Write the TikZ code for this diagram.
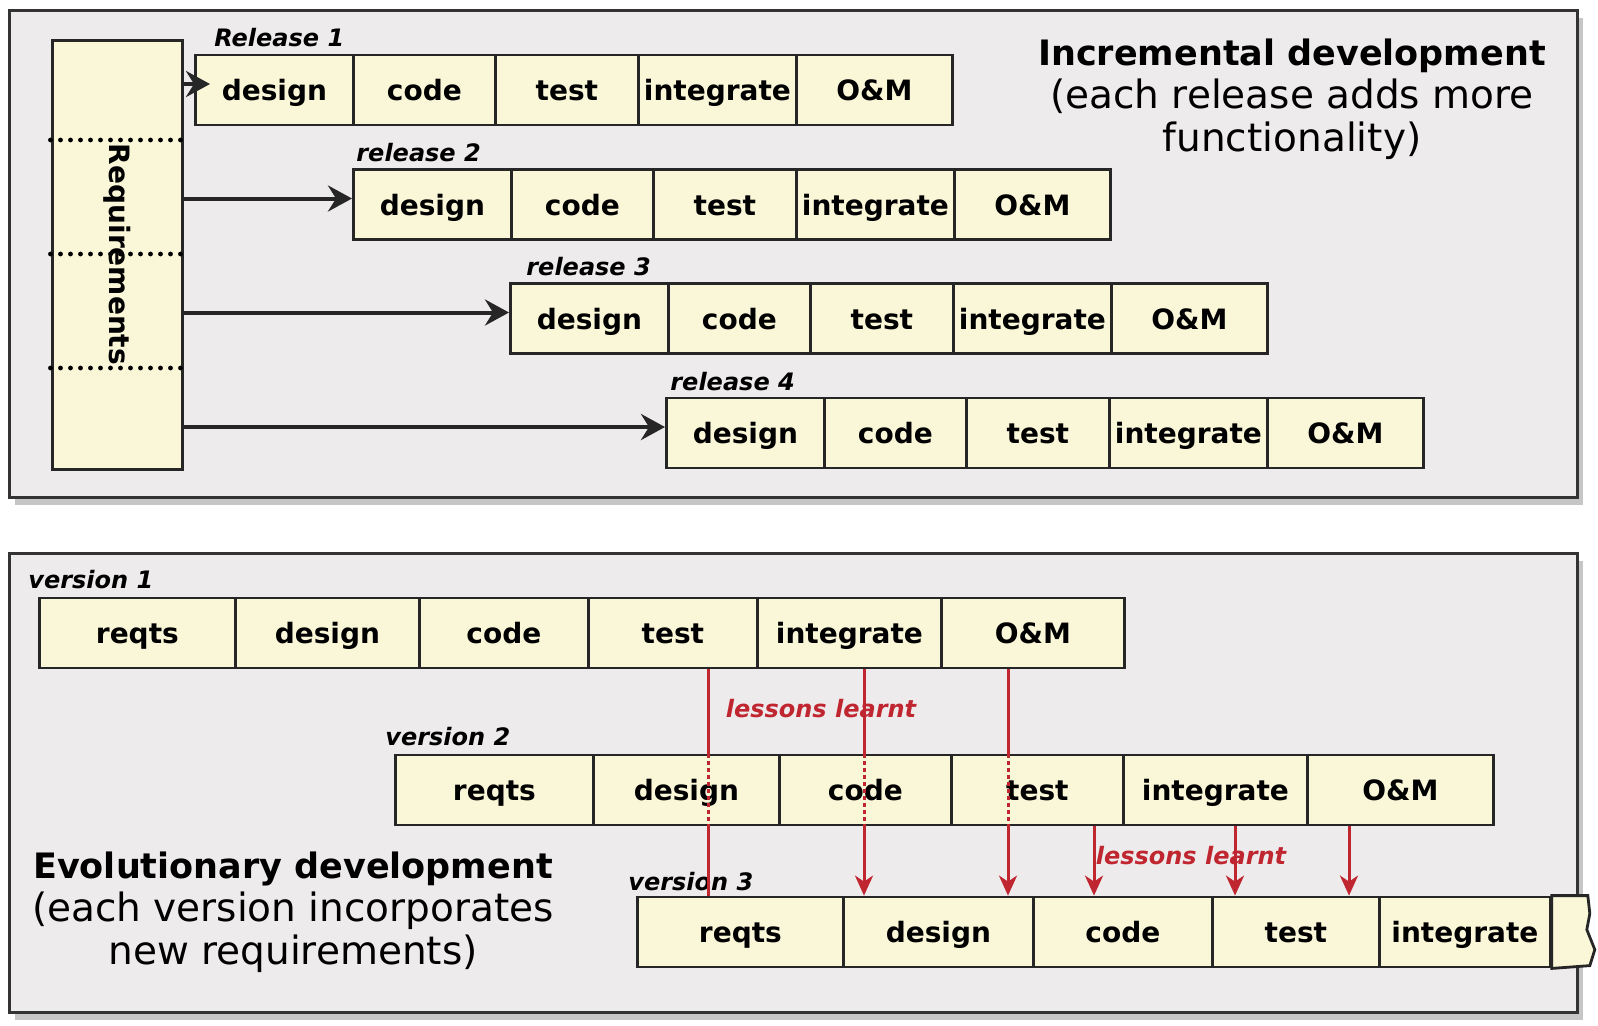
\documentclass[tikz,border=0pt]{standalone}
\usepackage{fontspec}
\setmainfont{DejaVu Sans}[ItalicFont={DejaVu Sans Oblique}, BoldItalicFont={DejaVu Sans Bold Oblique}]
\usetikzlibrary{arrows.meta, positioning, shadows}

\definecolor{panelgray}{RGB}{238,235,236}
\definecolor{cellcream}{RGB}{250,246,216}
\definecolor{lessonred}{RGB}{192,38,48}

\begin{document}
\begin{tikzpicture}[x=0.5pt, y=-0.5pt,
    every node/.style={font=\fontsize{14}{16}\selectfont\bfseries},
    panel/.style={draw=black!80, line width=1.5pt, fill=panelgray,
      drop shadow={shadow xshift=3pt, shadow yshift=-4pt, fill=black!50, opacity=0.45}},
    cell/.style={draw=black!85, line width=1.4pt, fill=cellcream, minimum height=35pt,
      inner sep=0pt, text height=12pt, text depth=1.5pt, anchor=west},
    tag/.style={font=\fontsize{12}{14}\selectfont\bfseries\itshape, inner sep=0pt, anchor=base west},
    title/.style={align=center, font=\fontsize{19.5}{21.5}\selectfont},
    reqdiv/.style={line width=2.4pt, line cap=round, dash pattern=on 0pt off 5pt},
    reqarrow/.style={draw=black!85, line width=2pt, -{Stealth[length=12pt, width=13pt, inset=4pt]}},
    lesson/.style={draw=lessonred, line width=1.5pt},
    lessontip/.style={-{Stealth[length=10pt, width=9pt, inset=3pt]}},
    lessontag/.style={tag, text=lessonred, anchor=base}
  ]
    \useasboundingbox (0,0) rectangle (1598,1025);

    % incremental development
    \draw[panel] (9,10) rectangle (1577,497);
    \node[title] (inctitle) at (1292,99)
      {{\fontsize{17.5}{21.5}\selectfont\bfseries Incremental development}\\(each release adds more\\functionality)};

    \node[draw=black!85, line width=1.5pt, fill=cellcream, minimum width=65pt, minimum height=214.5pt,
      inner sep=0pt] (req) at (117,254.5) {};
    \node[rotate=-90] (reqtxt) at (req.center) {Requirements};
    \foreach \y in {140,254,368}
      \draw[reqdiv] (req.west |- 0,\y) -- (req.east |- 0,\y);

    \foreach \r/\dx/\y in {1/0/90, 2/158/204.5, 3/315/318.5, 4/471/433}
      \foreach \i/\xa/\xb/\txt in {1/194/352/design, 2/352/494/code, 3/494/637/test,
          4/637/795/integrate, 5/795/951/O\&M}
        \node[cell, minimum width={(\xb-\xa)*0.5pt}] (r\r-\i) at (\xa+\dx,\y) {\txt};

    \node[tag] (rel1) at (214,46) {Release 1};
    \node[tag] (rel2) at (356,161) {release 2};
    \node[tag] (rel3) at (526,275) {release 3};
    \node[tag] (rel4) at (670,390) {release 4};

    \path (r1-1.west) ++(16,-6) coordinate (tip1);
    \draw[reqarrow] (req.east |- tip1) -- (tip1);
    \foreach \r in {2,3,4} {
      \path (r\r-1.west) ++(0,-6) coordinate (tip\r);
      \draw[reqarrow] (req.east |- tip\r) -- (tip\r);
    }

    % evolutionary development
    \draw[panel] (9,553) rectangle (1577,1012);
    \node[title] (evotitle) at (293,912)
      {{\fontsize{17.5}{21.5}\selectfont\bfseries Evolutionary development}\\(each version incorporates\\new requirements)};

    \foreach \i/\xa/\xb/\txt in {1/38/234/reqts, 2/234/418/design, 3/418/587/code, 4/587/756/test,
        5/756/940/integrate, 6/940/1123/O\&M}
      \node[cell, minimum width={(\xb-\xa)*0.5pt}] (v1-\i) at (\xa,633) {\txt};
    \foreach \i/\xa/\xb/\txt in {1/394/592/reqts, 2/592/778/design, 3/778/950/code, 4/950/1122/test,
        5/1122/1306/integrate, 6/1306/1492/O\&M}
      \node[cell, minimum width={(\xb-\xa)*0.5pt}] (v2-\i) at (\xa,790) {\txt};
    \foreach \i/\xa/\xb/\txt in {1/636/842/reqts, 2/842/1032/design, 3/1032/1211/code, 4/1211/1378/test,
        5/1378/1549/integrate}
      \node[cell, minimum width={(\xb-\xa)*0.5pt}] (v3-\i) at (\xa,932) {\txt};
    \draw[draw=black!85, line width=1.4pt, fill=cellcream] (v3-5.north east) -- ++(36,0) -- ++(2,18)
      -- ++(-3,16) -- ++(8,20) -- ++(-5,16) -- (v3-5.south east) -- cycle;

    \node[tag] (ver1) at (28,588) {version 1};
    \node[tag] (ver2) at (385,745) {version 2};
    \node[tag] (ver3) at (628,890) {version 3};

    \foreach \x/\a/\b/\c/\tip in {708/v1-4/v2-2/v3-1/-, 864/v1-5/v2-3/v3-2/lessontip,
        1008/v1-6/v2-4/v3-2/lessontip} {
      \draw[lesson] (\a.south -| \x,0) -- (\b.north -| \x,0);
      \draw[lesson, dash pattern=on 2pt off 1.5pt] (\b.north -| \x,0) -- (\b.south -| \x,0);
      \draw[lesson, \tip] (\b.south -| \x,0) -- (\c.north -| \x,0);
    }
    \foreach \x/\a/\c in {1094/v2-4/v3-3, 1235/v2-5/v3-4, 1349/v2-6/v3-4}
      \draw[lesson, lessontip] (\a.south -| \x,0) -- (\c.north -| \x,0);

    \node[lessontag] (learnt1) at (821,717) {lessons learnt};
    \node[lessontag] (learnt2) at (1191,864) {lessons learnt};
\end{tikzpicture}
\end{document}
